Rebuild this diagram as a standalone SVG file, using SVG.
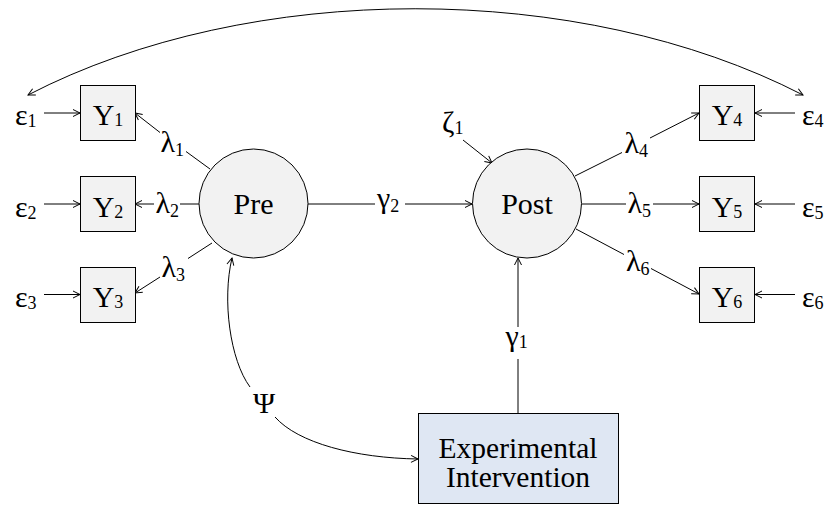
<svg xmlns="http://www.w3.org/2000/svg" width="827" height="506" viewBox="0 0 827 506">
<defs>
<style>
text{font-family:"Liberation Serif","Times New Roman",serif;font-size:30px;fill:#000}
.sub{font-size:18px}
.box{fill:#f2f2f2;stroke:#000;stroke-width:1}
.lat{fill:#f2f2f2;stroke:#000;stroke-width:1}
.ei{fill:#dfe7f3;stroke:#000;stroke-width:1}
.c{fill:none;stroke:#000;stroke-width:1}
.a{marker-end:url(#arr)}
.b{marker-start:url(#arr);marker-end:url(#arr)}
.mid{text-anchor:middle}
</style>
<marker id="arr" markerUnits="userSpaceOnUse" markerWidth="10" markerHeight="10" refX="7" refY="3.5" orient="auto-start-reverse" viewBox="-1 -1 10 10">
<path d="M0,0 L7,3.5 L0,7" fill="none" stroke="#000" stroke-width="1"/>
</marker>
</defs>

<g id="connectors">
<path class="c b" d="M28,95 C250,-20 580,-20 803,95"/>
<path class="c a" d="M44,113 H80"/>
<path class="c a" d="M44,204 H80"/>
<path class="c a" d="M44,294.5 H80"/>
<path class="c a" d="M795,113 H755"/>
<path class="c a" d="M795,204 H755"/>
<path class="c a" d="M795,294.5 H755"/>
<path class="c" d="M210,169 L186,151.5"/>
<path class="c a" d="M160,132.5 L135,113"/>
<path class="c" d="M199,204 H180"/>
<path class="c a" d="M154,204 H135"/>
<path class="c" d="M212,243 L188,258.5"/>
<path class="c a" d="M160,277 L135,293"/>
<path class="c" d="M575,176 L622,152.5"/>
<path class="c a" d="M650,138 L699,113"/>
<path class="c" d="M582,204 H626"/>
<path class="c a" d="M653,204 H699"/>
<path class="c" d="M576,229 L624,254.5"/>
<path class="c a" d="M651,268.5 L699,294"/>
<path class="c" d="M308,204 H375"/>
<path class="c a" d="M405,204 H472"/>
<path class="c a" d="M463,140 L492,163"/>
<path class="c" d="M518,413 V359"/>
<path class="c a" d="M518,327 V258"/>
<path class="c" d="M232,258 C222,300 230,360 250,387" style="marker-start:url(#arr)"/>
<path class="c a" d="M275,417 C298,443 355,458 418,459"/>
</g>

<g id="labels">
<text x="160.5" y="152">λ<tspan class="sub" dy="4">1</tspan></text>
<text x="155.5" y="213">λ<tspan class="sub" dy="4">2</tspan></text>
<text x="161.5" y="277">λ<tspan class="sub" dy="4">3</tspan></text>
<text x="624.5" y="153">λ<tspan class="sub" dy="4">4</tspan></text>
<text x="627.5" y="213">λ<tspan class="sub" dy="4">5</tspan></text>
<text x="626" y="271">λ<tspan class="sub" dy="4">6</tspan></text>
<text x="377" y="208">γ<tspan class="sub" dy="4">2</tspan></text>
<text x="505.5" y="346">γ<tspan class="sub" dy="2">1</tspan></text>
<text x="253" y="413">Ψ</text>
</g>

<g id="eps1"><text x="15" y="125">ε<tspan class="sub" dy="2">1</tspan></text></g>
<g id="eps2"><text x="15" y="216.5">ε<tspan class="sub" dy="2">2</tspan></text></g>
<g id="eps3"><text x="15" y="307">ε<tspan class="sub" dy="2">3</tspan></text></g>
<g id="eps4"><text x="802" y="125">ε<tspan class="sub" dy="2">4</tspan></text></g>
<g id="eps5"><text x="802" y="216.5">ε<tspan class="sub" dy="2">5</tspan></text></g>
<g id="eps6"><text x="802" y="307">ε<tspan class="sub" dy="2">6</tspan></text></g>
<g id="zeta1"><text x="442" y="132">ζ<tspan class="sub" dy="2">1</tspan></text></g>

<g id="Y1"><rect class="box" x="80.5" y="85.5" width="55" height="55"/><text class="mid" x="108" y="125">Y<tspan class="sub" dy="1">1</tspan></text></g>
<g id="Y2"><rect class="box" x="80.5" y="176.5" width="55" height="55"/><text class="mid" x="108" y="216.5">Y<tspan class="sub" dy="1">2</tspan></text></g>
<g id="Y3"><rect class="box" x="80.5" y="267.5" width="55" height="55"/><text class="mid" x="108" y="307">Y<tspan class="sub" dy="1">3</tspan></text></g>
<g id="Y4"><rect class="box" x="699.5" y="85.5" width="55" height="55"/><text class="mid" x="727" y="125">Y<tspan class="sub" dy="1">4</tspan></text></g>
<g id="Y5"><rect class="box" x="699.5" y="176.5" width="55" height="55"/><text class="mid" x="727" y="216.5">Y<tspan class="sub" dy="1">5</tspan></text></g>
<g id="Y6"><rect class="box" x="699.5" y="267.5" width="55" height="55"/><text class="mid" x="727" y="307">Y<tspan class="sub" dy="1">6</tspan></text></g>

<g id="Pre"><circle class="lat" cx="253.5" cy="203.5" r="54.5"/><text class="mid" x="253.5" y="214">Pre</text></g>
<g id="Post"><circle class="lat" cx="527" cy="203.5" r="54.5"/><text class="mid" x="527" y="214">Post</text></g>

<g id="Intervention"><rect class="ei" x="418.5" y="413.5" width="200" height="90"/>
<text class="mid" x="518" y="458" style="font-size:29.5px">Experimental</text>
<text class="mid" x="518" y="487" style="font-size:29.5px">Intervention</text></g>
</svg>
